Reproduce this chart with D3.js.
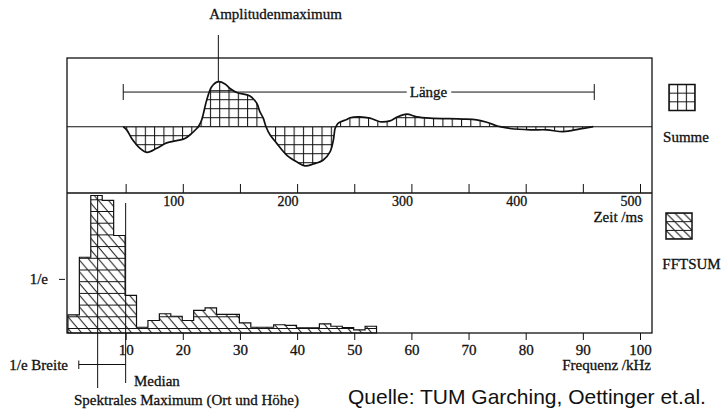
<!DOCTYPE html>
<html><head><meta charset="utf-8">
<script src="https://cdn.jsdelivr.net/npm/d3@7"></script>
<style>body{margin:0;background:#fff}svg{display:block}.s{stroke:#111;stroke-width:0.3}</style>
</head><body>
<svg id="c" width="723" height="413"></svg>
<script>
// ---------- data: upper panel (Summe over time) ----------
const timeMs = [47.9, 50.9, 55.3, 62.6, 68.9, 77.2, 85.9, 94.7, 101.9, 107.8, 112.2, 113.6, 116.5, 120.9, 125.3, 131.1, 136.9, 141.3, 147.2, 158.8, 164.7, 167.5, 170.4, 172.8, 176.3, 182.2, 190.9, 199.6, 206.9, 214.2, 222.9, 228.8, 231.7, 233.2, 234, 236, 243.4, 246.3, 255, 263.8, 272.5, 281.3, 287.1, 295.9, 304.6, 316.3, 345.4, 357.1, 365.9, 374.6, 377.5, 386.3, 403.8, 418.4, 432.9, 447.5, 459.1];
const summe = [0, -0.07, -0.26, -0.48, -0.57, -0.48, -0.36, -0.31, -0.26, -0.15, -0.04, 0, 0.15, 0.59, 0.89, 1.0, 0.95, 0.85, 0.76, 0.68, 0.52, 0.33, 0.19, 0, -0.18, -0.37, -0.63, -0.78, -0.87, -0.83, -0.74, -0.56, -0.3, -0.04, 0, 0.08, 0.16, 0.2, 0.22, 0.19, 0.11, 0.13, 0.21, 0.28, 0.22, 0.19, 0.17, 0.15, 0.1, 0.02, 0, -0.04, -0.07, -0.07, -0.11, -0.05, 0];
const timeTicks = [50, 100, 150, 200, 250, 300, 350, 400, 450, 500];
const timeLabelValues = [100, 200, 300, 400, 500];
const amplitudeMaxMs = 131.1;
const lengthStartMs = 47.9, lengthEndMs = 460, lengthLevel = 0.77;

// ---------- data: lower panel (FFTSUM over frequency) ----------
const freqCentersKHz = [0.9, 2.9, 4.9, 6.9, 8.9, 10.9, 12.9, 14.9, 16.9, 18.9, 20.9, 22.9, 24.9, 26.9, 28.9, 30.9, 32.9, 34.9, 36.9, 38.9, 40.9, 42.9, 44.9, 46.9, 48.9, 50.9, 52.9];
const fftsum = [0.132, 0.551, 1.0, 0.964, 0.709, 0.273, 0.042, 0.091, 0.14, 0.122, 0.091, 0.164, 0.183, 0.135, 0.135, 0.074, 0.042, 0.042, 0.06, 0.055, 0.038, 0.038, 0.067, 0.049, 0.04, 0.023, 0.049];
const freqBinWidthKHz = 2;
const freqTicks = [10, 20, 30, 40, 50, 60, 70, 80, 90, 100];
const oneOverELevel = 0.39;
const spectralMaxKHz = 5.1, medianKHz = 10, breiteStartKHz = 1.8, breiteEndKHz = 10;

// ---------- layout ----------
const L = 67, R = 652, T = 58, MID = 193, B = 333;
const SERIF = "'Liberation Serif', 'Times New Roman', serif";
const INK = "#111";

const svg = d3.select("#c");
svg.append("rect").attr("width", 723).attr("height", 413).attr("fill", "#fff");

const x = d3.scaleLinear().domain([0, 500]).range([68.5, 640]);
const f = d3.scaleLinear().domain([0, 100]).range([68.5, 640]);
const amp = d3.scaleLinear().domain([-1, 1]).range([171.7, 81.7]);
const mag = d3.scaleLinear().domain([0, 1]).range([B, 195.5]);

function txt(xp, yp, s, anchor, size) {
  return svg.append("text").attr("class", "s").attr("x", xp).attr("y", yp)
    .attr("text-anchor", anchor || "start").attr("font-family", SERIF)
    .attr("font-size", size || 15).attr("fill", INK).text(s);
}

// ---------- patterns ----------
const defs = svg.append("defs");
function gridPattern(id, ox, oy, w, h) {
  const p = defs.append("pattern").attr("id", id).attr("patternUnits", "userSpaceOnUse")
    .attr("x", ox - 0.5).attr("y", oy - 0.5).attr("width", w).attr("height", h);
  p.append("path").attr("d", `M0,0.5H${w}M0.5,0V${h}`).attr("stroke", INK).attr("stroke-width", 1.1).attr("fill", "none");
}
function hatchPattern(id, ox, oy, w, h) {
  const p = defs.append("pattern").attr("id", id).attr("patternUnits", "userSpaceOnUse")
    .attr("x", ox).attr("y", oy - 0.5).attr("width", w).attr("height", h);
  let d = `M0,0.5H${w}`;
  const k = h / w;
  for (let m = -1; m <= 1; m++) {
    const x0 = m * w - 2, x1 = m * w + w + 2;
    d += `M${x0},${(x0 - m * w) * k + 0.5}L${x1},${(x1 - m * w) * k + 0.5}`;
  }
  p.append("path").attr("d", d).attr("stroke", INK).attr("stroke-width", 1).attr("fill", "none");
}
gridPattern("grid", 126.7, amp(0), 9.3, 9);
gridPattern("gridLegend", 669, 84.5, 8.67, 8.67);
hatchPattern("hatch", 67.9, 328.5, 10, 11.7);
hatchPattern("hatchLegend", 666, 213, 8.7, 8.7);

// ---------- upper panel ----------
const pts = timeMs.map((t, i) => ({ t, a: summe[i] }));
const area = d3.area().x(d => x(d.t)).y0(amp(0)).y1(d => amp(d.a)).curve(d3.curveCatmullRom.alpha(0.5));
const line = d3.line().x(d => x(d.t)).y(d => amp(d.a)).curve(d3.curveCatmullRom.alpha(0.5));
svg.append("path").attr("d", area(pts)).attr("fill", "url(#grid)");
svg.append("line").attr("x1", L).attr("x2", R).attr("y1", amp(0)).attr("y2", amp(0)).attr("stroke", INK).attr("stroke-width", 1.1);
svg.append("path").attr("d", line(pts)).attr("fill", "none").attr("stroke", INK).attr("stroke-width", 1.7);

// Amplitudenmaximum
svg.append("line").attr("x1", x(amplitudeMaxMs)).attr("x2", x(amplitudeMaxMs)).attr("y1", 35).attr("y2", amp(1)).attr("stroke", INK).attr("stroke-width", 1);
txt(x(amplitudeMaxMs) - 9, 18.5, "Amplitudenmaximum");

// Länge
const ly = amp(lengthLevel);
const lTxt = txt(428.5, ly + 5, "Länge", "middle");
const lw = lTxt.node().getComputedTextLength();
const lg = svg.append("g").attr("stroke", INK).attr("stroke-width", 1);
lg.append("line").attr("x1", x(lengthStartMs)).attr("x2", 428.5 - lw / 2 - 3).attr("y1", ly).attr("y2", ly);
lg.append("line").attr("x1", 428.5 + lw / 2 + 4).attr("x2", x(lengthEndMs)).attr("y1", ly).attr("y2", ly);
lg.append("line").attr("x1", x(lengthStartMs)).attr("x2", x(lengthStartMs)).attr("y1", ly - 8).attr("y2", ly + 8);
lg.append("line").attr("x1", x(lengthEndMs)).attr("x2", x(lengthEndMs)).attr("y1", ly - 8).attr("y2", ly + 8);

// ---------- lower panel: histogram as one stepped outline ----------
const stepPts = [{ k: freqCentersKHz[0] - freqBinWidthKHz / 2, v: 0 }];
freqCentersKHz.forEach((c, i) => {
  stepPts.push({ k: c - freqBinWidthKHz / 2, v: fftsum[i] });
  stepPts.push({ k: c + freqBinWidthKHz / 2, v: fftsum[i] });
});
stepPts.push({ k: freqCentersKHz[freqCentersKHz.length - 1] + freqBinWidthKHz / 2, v: 0 });
const stepLine = d3.line().x(d => f(d.k)).y(d => mag(d.v));
svg.append("path").attr("d", stepLine(stepPts) + "Z")
  .attr("fill", "url(#hatch)").attr("stroke", INK).attr("stroke-width", 1.2).attr("stroke-linejoin", "miter");

// 1/e tick
svg.append("line").attr("x1", 59).attr("x2", 65).attr("y1", mag(oneOverELevel)).attr("y2", mag(oneOverELevel)).attr("stroke", INK);
txt(48, mag(oneOverELevel) + 5, "1/e", "end");

// ---------- frame ----------
svg.append("rect").attr("x", L).attr("y", T).attr("width", R - L).attr("height", B - T).attr("fill", "none").attr("stroke", INK).attr("stroke-width", 1.3);
svg.append("line").attr("x1", L).attr("x2", R).attr("y1", MID).attr("y2", MID).attr("stroke", INK).attr("stroke-width", 1.3);

// time axis (ticks up from divider, labels below, right-aligned)
const tAxis = svg.append("g").attr("transform", `translate(0,${MID})`)
  .call(d3.axisBottom(x).tickValues(timeTicks).tickSize(-9).tickPadding(3.5)
    .tickFormat(d => timeLabelValues.includes(d) ? d : ""));
tAxis.select(".domain").remove();
tAxis.selectAll("line").attr("stroke", INK);
tAxis.selectAll("text").attr("class", "s").attr("text-anchor", "end").attr("x", 1).attr("font-family", SERIF).attr("font-size", 14).attr("fill", INK);
txt(643, 222, "Zeit /ms", "end");

// frequency axis
const fAxis = svg.append("g").attr("transform", `translate(0,${B})`)
  .call(d3.axisBottom(f).tickValues(freqTicks).tickSize(7).tickPadding(4));
fAxis.select(".domain").remove();
fAxis.selectAll("line").attr("stroke", INK);
fAxis.selectAll("text").attr("class", "s").attr("font-family", SERIF).attr("font-size", 15).attr("fill", INK);
txt(651, 370, "Frequenz /kHz", "end");

// annotations lower
const an = svg.append("g").attr("stroke", INK).attr("stroke-width", 1);
an.append("line").attr("x1", f(spectralMaxKHz)).attr("x2", f(spectralMaxKHz)).attr("y1", mag(1)).attr("y2", 388);
an.append("line").attr("x1", f(medianKHz)).attr("x2", f(medianKHz)).attr("y1", 203).attr("y2", 383);
an.append("line").attr("x1", f(breiteStartKHz)).attr("x2", f(breiteEndKHz)).attr("y1", 364.5).attr("y2", 364.5);
an.append("line").attr("x1", f(breiteStartKHz)).attr("x2", f(breiteStartKHz)).attr("y1", 360.5).attr("y2", 369);
txt(68, 370, "1/e Breite", "end");
txt(134, 386, "Median");
txt(74, 405, "Spektrales Maximum (Ort und Höhe)");

// ---------- legend ----------
svg.append("rect").attr("x", 669).attr("y", 84.5).attr("width", 26).attr("height", 26).attr("fill", "url(#gridLegend)").attr("stroke", INK).attr("stroke-width", 1.5);
txt(686, 142, "Summe", "middle");
svg.append("rect").attr("x", 666).attr("y", 213).attr("width", 26).attr("height", 26).attr("fill", "url(#hatchLegend)").attr("stroke", INK).attr("stroke-width", 1.5);
txt(691.5, 269, "FFTSUM", "middle");

// source
svg.append("text").attr("x", 348).attr("y", 404).attr("font-family", "'Liberation Sans', Arial, sans-serif").attr("font-size", 21).attr("fill", INK).text("Quelle: TUM Garching, Oettinger et.al.");
</script>
</body></html>
